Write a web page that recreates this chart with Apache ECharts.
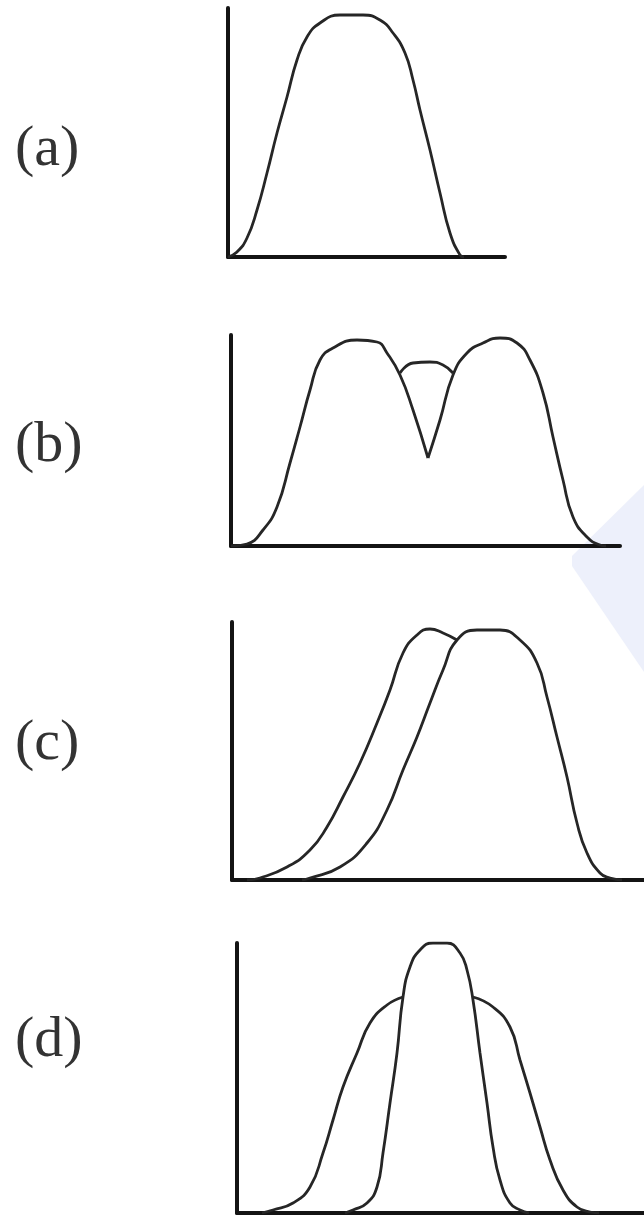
<!DOCTYPE html>
<html>
<head>
<meta charset="utf-8">
<script src="https://cdn.jsdelivr.net/npm/echarts@6/dist/echarts.min.js"></script>
<style>
  html, body { margin: 0; padding: 0; background: #fff; }
  #main { width: 644px; height: 1220px; }
</style>
</head>
<body>
<div id="main"></div>
<script>
// panel labels
const labels = ['(a)', '(b)', '(c)', '(d)']

// curve values, [x, y] in each panel's own axis units
const curveA = [[0,0],[9,5],[19,19],[29,47],[39,84],[49,124],[59,160],[69,197],[79,220],[92,234],[112,242],[135,242],[152,237],[165,224],[177,204],[185,177],[192,147],[202,107],[212,64],[222,24],[232,2],[236,0]]

const curveBLeft = [[0,0],[16,2],[32,16],[46,39],[59,83],[69,119],[79,156],[89,186],[102,198],[126,206],[146,204],[156,193],[169,171],[182,136],[197,88]]
const curveBRight = [[197,88],[209,126],[222,171],[236,193],[252,203],[269,208],[286,203],[299,186],[312,153],[322,109],[332,66],[342,29],[356,9],[369,1],[375,0]]
const curveBMid = [[169,173],[182,183],[199,184],[212,181],[222,173]]

const curveCLeft = [[15,0],[28,2],[55,13],[78,30],[95,53],[111,83],[128,117],[145,157],[158,190],[171,227],[185,245],[198,251],[211,247],[225,240]]
const curveCRight = [[70,0],[78,2],[108,13],[135,37],[155,70],[171,110],[185,143],[198,177],[211,210],[225,240],[245,250],[268,250],[288,240],[305,217],[315,183],[325,143],[335,103],[345,57],[355,27],[368,7],[378,2],[390,0]]

const curveDBroadLeft = [[25,0],[36,3],[56,10],[73,26],[86,60],[96,93],[106,126],[120,160],[133,190],[150,208],[166,216]]
const curveDBroadRight = [[236,216],[256,206],[273,186],[283,153],[293,120],[303,86],[313,53],[326,23],[340,6],[353,1],[362,0]]
const curveDNarrow = [[108,0],[116,3],[130,10],[140,26],[146,60],[153,110],[160,160],[166,216],[173,246],[183,263],[196,270],[210,270],[223,260],[230,243],[236,213],[243,160],[250,110],[256,66],[263,33],[273,10],[283,3],[292,0]]

// layout of the four panels (pixels)
const panels = [
  { left: 228, top: 8,   width: 277, height: 249, labelY: 152,  curves: [curveA] },
  { left: 231, top: 335, width: 389, height: 211, labelY: 448,  curves: [curveBLeft, curveBRight, curveBMid] },
  { left: 232, top: 622, width: 412, height: 258, labelY: 746,  curves: [curveCLeft, curveCRight] },
  { left: 237, top: 943, width: 407, height: 270, labelY: 1043, curves: [curveDBroadLeft, curveDBroadRight, curveDNarrow] }
]

const axisLine = { show: true, onZero: false, lineStyle: { color: '#141414', width: 4 } }

const grid = [], xAxis = [], yAxis = [], series = []
panels.forEach((p, i) => {
  grid.push({ left: p.left, top: p.top, width: p.width, height: p.height })
  xAxis.push({
    type: 'value', gridIndex: i, min: 0, max: p.width,
    axisLine, axisTick: { show: false }, axisLabel: { show: false }, splitLine: { show: false }
  })
  yAxis.push({
    type: 'value', gridIndex: i, min: 0, max: p.height,
    axisLine, axisTick: { show: false }, axisLabel: { show: false }, splitLine: { show: false }
  })
  p.curves.forEach(c => {
    series.push({
      type: 'line', xAxisIndex: i, yAxisIndex: i,
      data: c, smooth: 0.5, showSymbol: false, silent: true,
      lineStyle: { color: '#262626', width: 2.8 }
    })
  })
})

const graphic = [
  // faint blue watermark
  { type: 'polygon', z: -10, shape: { points: [[644,485],[572,556],[572,566],[644,672]] },
    style: { fill: '#edf0fb' } }
].concat(panels.map((p, i) => ({
  type: 'text', left: 15, top: p.labelY - 31,
  style: { text: labels[i], font: '58px "Liberation Serif"', fill: '#333' }
})))

const chart = echarts.init(document.getElementById('main'), null, { renderer: 'canvas' })
chart.setOption({
  animation: false,
  backgroundColor: '#fff',
  grid, xAxis, yAxis, series, graphic
})
</script>
</body>
</html>
